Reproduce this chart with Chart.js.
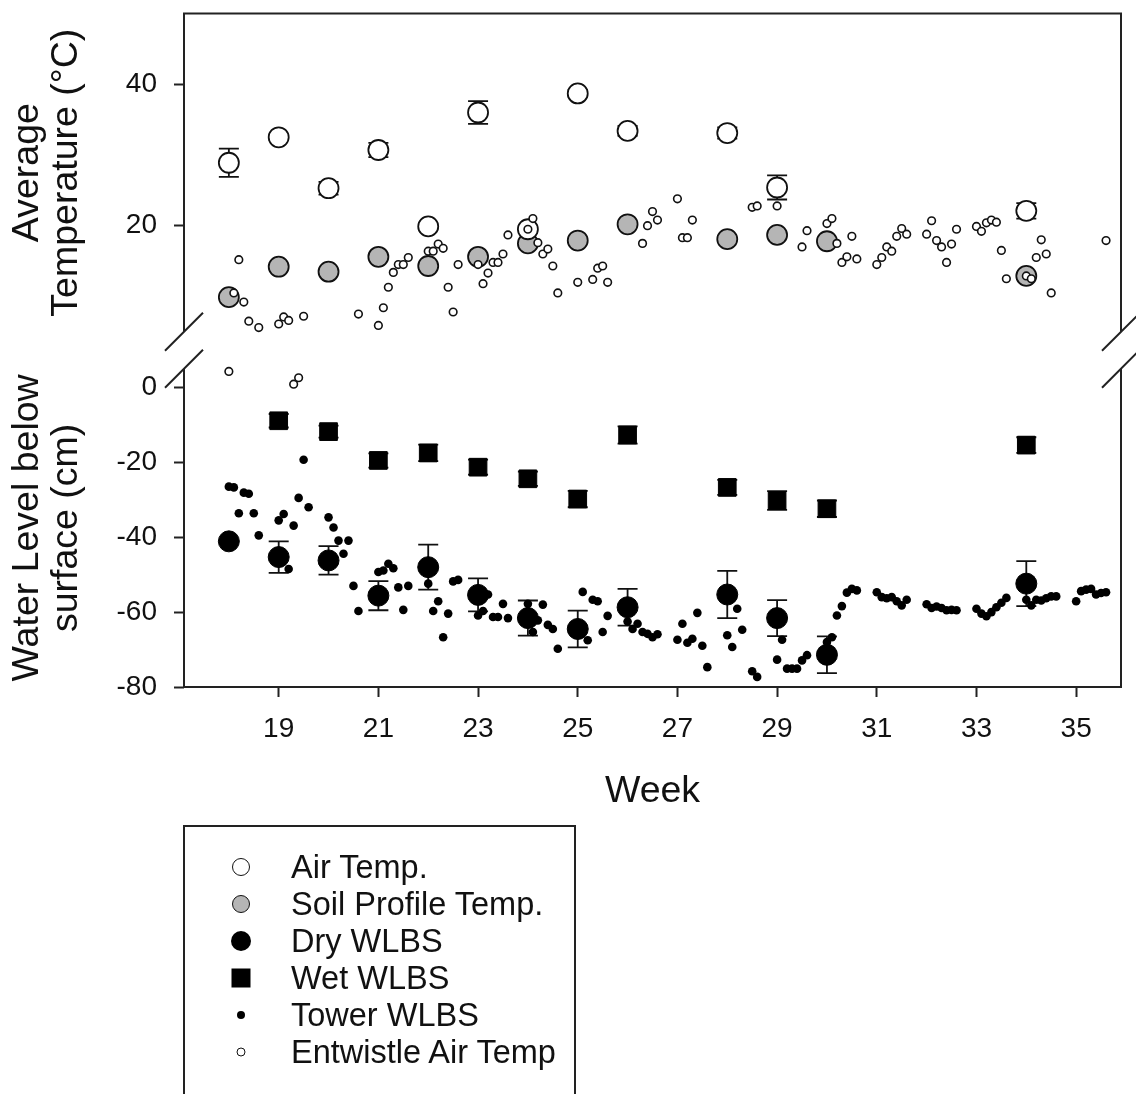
<!DOCTYPE html>
<html>
<head>
<meta charset="utf-8">
<script src="https://cdn.jsdelivr.net/npm/chart.js@4.4.1/dist/chart.umd.min.js"></script>
<style>
  html, body { margin: 0; padding: 0; background: #fff; }
  #wrap { position: relative; width: 1136px; height: 1094px; overflow: hidden; }
  #legend {
    position: absolute; left: 183px; top: 825px; width: 393px; height: 300px;
    border: 2px solid #222; box-sizing: border-box; padding-top: 21px;
    font-family: 'Liberation Sans', Arial, sans-serif; font-size: 32.5px; color: #111;
  }
  .row { position: relative; height: 37px; }
  .mark { position: absolute; left: 56px; top: 50%; transform: translate(-50%, -50%); box-sizing: border-box; }
  .txt { position: absolute; left: 106px; top: 50%; transform: translateY(-50%); line-height: 1; white-space: nowrap; }
</style>
</head>
<body>
<div id="wrap">
  <canvas id="chart" width="1136" height="830"></canvas>
  <div id="legend"></div>
</div>
<script>
// ---- data ----
const weekTicks = [19, 21, 23, 25, 27, 29, 31, 33, 35];
const tempTicks = [20, 40];
const levelTicks = [0, -20, -40, -60, -80];

const airWeeks = [18, 19, 20, 21, 22, 23, 24, 25, 26, 28, 29, 34];
const airTemp  = [28.9, 32.5, 25.3, 30.7, 19.9, 36.0, 19.5, 38.7, 33.4, 33.1, 25.4, 22.1];
const airErr   = [2.0, 0.4, 0.9, 1.0, 0.4, 1.6, 0.5, 0.5, 0.7, 0.8, 1.7, 1.1];

const soilWeeks = [18, 19, 20, 21, 22, 23, 24, 25, 26, 28, 29, 30, 34];
const soilTemp  = [9.9, 14.2, 13.5, 15.6, 14.3, 15.6, 17.5, 17.9, 20.2, 18.1, 18.7, 17.8, 12.9];

const dryWeeks = [18, 19, 20, 21, 22, 23, 24, 25, 26, 28, 29, 30, 34];
const dryLevel = [-41.1, -45.3, -46.2, -55.6, -48.0, -55.4, -61.6, -64.5, -58.7, -55.3, -61.6, -71.4, -52.4];
const dryErr   = [0, 4.2, 3.8, 3.9, 6.0, 4.4, 4.7, 4.9, 4.9, 6.3, 4.8, 4.9, 6.0];

const wetWeeks = [19, 20, 21, 22, 23, 24, 25, 26, 28, 29, 30, 34];
const wetLevel = [-8.9, -11.8, -19.5, -17.5, -21.3, -24.4, -29.8, -12.7, -26.7, -30.2, -32.4, -15.4];
const wetErr   = [1.8, 1.6, 1.9, 2.2, 2.0, 1.9, 2.2, 2.3, 2.0, 2.5, 2.2, 2.1];

const towerWeeks = [
  18.0, 18.1, 18.2, 18.3, 18.4, 18.5, 18.6,
  19.0, 19.1, 19.2, 19.3, 19.4, 19.5, 19.6,
  20.0, 20.1, 20.2, 20.3, 20.4, 20.5, 20.6,
  21.0, 21.1, 21.2, 21.3, 21.4, 21.5, 21.6,
  22.0, 22.1, 22.2, 22.3, 22.4, 22.5, 22.6,
  23.0, 23.1, 23.2, 23.3, 23.4, 23.5, 23.6,
  24.0, 24.1, 24.2, 24.3, 24.4, 24.5, 24.6,
  25.1, 25.2, 25.3, 25.4, 25.5, 25.6,
  26.0, 26.1, 26.2, 26.3, 26.4, 26.5, 26.6,
  27.0, 27.1, 27.2, 27.3, 27.4, 27.5, 27.6,
  28.0, 28.1, 28.2, 28.3, 28.5, 28.6,
  29.0, 29.1, 29.2, 29.3, 29.4, 29.5, 29.6,
  30.0, 30.1, 30.2, 30.3, 30.4, 30.5, 30.6,
  31.0, 31.1, 31.2, 31.3, 31.4, 31.5, 31.6,
  32.0, 32.1, 32.2, 32.3, 32.4, 32.5, 32.6,
  33.0, 33.1, 33.2, 33.3, 33.4, 33.5, 33.6,
  34.0, 34.1, 34.2, 34.3, 34.4, 34.5, 34.6,
  35.0, 35.1, 35.2, 35.3, 35.4, 35.5, 35.6
];
const towerLevel = [
  -26.5, -26.7, -33.6, -28.1, -28.4, -33.6, -39.5,
  -35.5, -33.8, -48.5, -36.9, -29.5, -19.3, -32.0,
  -34.7, -37.4, -40.9, -44.4, -40.9, -53.0, -59.7,
  -49.3, -48.9, -47.1, -48.3, -53.4, -59.4, -53.0,
  -52.4, -59.7, -57.1, -66.7, -60.4, -51.8, -51.4,
  -60.9, -59.7, -55.3, -61.3, -61.3, -57.8, -61.6,
  -57.8, -65.3, -62.2, -58.0, -63.4, -64.5, -69.8,
  -54.6, -67.5, -56.7, -57.1, -65.3, -61.0,
  -62.5, -64.5, -63.1, -65.3, -65.8, -66.7, -65.9,
  -67.4, -63.1, -68.2, -67.1, -60.2, -69.0, -74.7,
  -66.2, -69.3, -59.1, -64.7, -75.8, -77.3,
  -72.7, -67.4, -75.1, -75.1, -75.1, -72.9, -71.5,
  -68.0, -66.7, -60.9, -58.4, -54.8, -53.8, -54.2,
  -54.7, -56.0, -56.3, -56.0, -57.1, -58.2, -56.7,
  -57.9, -58.9, -58.5, -58.9, -59.5, -59.4, -59.5,
  -59.1, -60.4, -61.1, -60.0, -58.7, -57.5, -56.2,
  -56.7, -58.2, -56.7, -56.9, -56.3, -55.8, -55.8,
  -57.1, -54.4, -54.0, -53.8, -55.3, -54.9, -54.7
];

const entWeeks = [
  18.0, 18.1, 18.2, 18.3, 18.4, 18.6,
  19.0, 19.1, 19.2, 19.3, 19.4, 19.5,
  20.6,
  21.0, 21.1, 21.2, 21.3, 21.4, 21.5, 21.6,
  22.0, 22.1, 22.2, 22.3, 22.4, 22.5, 22.6,
  23.0, 23.1, 23.2, 23.3, 23.4, 23.5, 23.6,
  24.0, 24.1, 24.2, 24.3, 24.4, 24.5, 24.6,
  25.0, 25.3, 25.4, 25.5, 25.6,
  26.3, 26.4, 26.5, 26.6,
  27.0, 27.1, 27.2, 27.3,
  28.5, 28.6,
  29.0, 29.5, 29.6,
  30.0, 30.1, 30.2, 30.3, 30.4, 30.5, 30.6,
  31.0, 31.1, 31.2, 31.3, 31.4, 31.5, 31.6,
  32.0, 32.1, 32.2, 32.3, 32.4, 32.5, 32.6,
  33.0, 33.1, 33.2, 33.3, 33.4, 33.5, 33.6,
  34.0, 34.1, 34.2, 34.3, 34.4, 34.5,
  35.6
];
const entTemp = [
  -0.6, 10.5, 15.2, 9.2, 6.5, 5.6,
  6.1, 7.1, 6.6, -2.4, -1.5, 7.2,
  7.5,
  5.9, 8.4, 11.3, 13.4, 14.5, 14.5, 15.5,
  16.4, 16.4, 17.4, 16.8, 11.3, 7.8, 14.5,
  14.5, 11.8, 13.3, 14.8, 14.8, 16.0, 18.7,
  19.5, 21.0, 17.6, 16.0, 16.7, 14.3, 10.5,
  12.0, 12.4, 14.0, 14.3, 12.0,
  17.5, 20.0, 22.0, 20.8,
  23.8, 18.3, 18.3, 20.8,
  22.6, 22.8,
  22.8, 17.0, 19.3,
  20.3, 21.0, 17.5, 14.8, 15.6, 18.5, 15.3,
  14.5, 15.5, 17.0, 16.4, 18.5, 19.6, 18.8,
  18.8, 20.7, 17.9, 17.0, 14.8, 17.4, 19.5,
  19.9, 19.2, 20.4, 20.8, 20.5, 16.5, 12.5,
  12.9, 12.5, 15.5, 18.0, 16.0, 10.5,
  17.9
];

// ---- styling ----
const FONT = "'Liberation Sans', Arial, sans-serif";
const INK = '#111';
const AXIS = '#222';

Chart.defaults.font.family = FONT;
Chart.defaults.color = INK;

function pts(xs, ys) {
  return xs.map((x, i) => ({ x: x, y: ys[i] }));
}

// error bars drawn through the chart's own scales
const errorSets = [
  { axis: 'yT', x: airWeeks, y: airTemp, err: airErr },
  { axis: 'yW', x: dryWeeks, y: dryLevel, err: dryErr },
  { axis: 'yW', x: wetWeeks, y: wetLevel, err: wetErr }
];

const errorBarPlugin = {
  id: 'errorBars',
  beforeDatasetsDraw(chart) {
    const { ctx, scales } = chart;
    ctx.save();
    ctx.strokeStyle = INK;
    ctx.lineWidth = 1.8;
    errorSets.forEach(set => {
      const ys = scales[set.axis];
      set.x.forEach((w, i) => {
        if (!set.err[i]) return;
        const px = scales.x.getPixelForValue(w);
        const hi = ys.getPixelForValue(set.y[i] + set.err[i]);
        const lo = ys.getPixelForValue(set.y[i] - set.err[i]);
        ctx.beginPath();
        ctx.moveTo(px, hi); ctx.lineTo(px, lo);
        ctx.moveTo(px - 10, hi); ctx.lineTo(px + 10, hi);
        ctx.moveTo(px - 10, lo); ctx.lineTo(px + 10, lo);
        ctx.stroke();
      });
    });
    ctx.restore();
  }
};

// broken frame: two panels plus the break slashes
const framePlugin = {
  id: 'frame',
  afterDatasetsDraw(chart) {
    const { ctx, chartArea: a, scales: { yT, yW } } = chart;
    ctx.save();
    ctx.strokeStyle = AXIS;
    ctx.lineWidth = 2;
    ctx.beginPath();
    ctx.moveTo(a.left, yT.bottom); ctx.lineTo(a.left, a.top);
    ctx.lineTo(a.right, a.top); ctx.lineTo(a.right, yT.bottom);
    ctx.moveTo(a.left, yW.top); ctx.lineTo(a.left, a.bottom);
    ctx.lineTo(a.right, a.bottom); ctx.lineTo(a.right, yW.top);
    const s = 19;
    [a.left, a.right].forEach(x => {
      [yT.bottom, yW.top].forEach(y => {
        ctx.moveTo(x - s, y + s);
        ctx.lineTo(x + s, y - s);
      });
    });
    ctx.stroke();
    ctx.restore();
  }
};

const tickGrid = {
  display: true,
  drawOnChartArea: false,
  drawTicks: true,
  tickLength: 10,
  tickWidth: 2,
  tickColor: AXIS
};

function fitLeft(scale) {
  scale.width = 184;
  scale.paddingTop = 0;
  scale.paddingBottom = 0;
}

const datasets = [
  { label: 'Air Temp.', data: pts(airWeeks, airTemp), yAxisID: 'yT',
    pointStyle: 'circle', pointRadius: 10, backgroundColor: '#fff', borderColor: INK, borderWidth: 1.8, order: 3 },
  { label: 'Soil Profile Temp.', data: pts(soilWeeks, soilTemp), yAxisID: 'yT',
    pointStyle: 'circle', pointRadius: 10, backgroundColor: '#b5b5b5', borderColor: INK, borderWidth: 1.8, order: 3 },
  { label: 'Dry WLBS', data: pts(dryWeeks, dryLevel), yAxisID: 'yW',
    pointStyle: 'circle', pointRadius: 10.5, backgroundColor: '#000', borderColor: '#000', borderWidth: 1, order: 2 },
  { label: 'Wet WLBS', data: pts(wetWeeks, wetLevel), yAxisID: 'yW',
    pointStyle: 'rect', pointRadius: 12.5, backgroundColor: '#000', borderColor: '#000', borderWidth: 1, order: 2 },
  { label: 'Tower WLBS', data: pts(towerWeeks, towerLevel), yAxisID: 'yW',
    pointStyle: 'circle', pointRadius: 4.3, backgroundColor: '#000', borderColor: '#000', borderWidth: 0, order: 1 },
  { label: 'Entwistle Air Temp', data: pts(entWeeks, entTemp), yAxisID: 'yT', clip: false,
    pointStyle: 'circle', pointRadius: 3.8, backgroundColor: '#fff', borderColor: INK, borderWidth: 1.6, order: 0 }
];

const chart = new Chart(document.getElementById('chart').getContext('2d'), {
  type: 'scatter',
  data: { datasets: datasets },
  options: {
    responsive: false,
    maintainAspectRatio: false,
    animation: false,
    events: [],
    layout: { padding: { top: 12, right: 15, bottom: 0, left: 0 } },
    plugins: { legend: { display: false }, tooltip: { enabled: false } },
    scales: {
      x: {
        type: 'linear', position: 'bottom', min: 17.1, max: 35.9,
        afterBuildTicks: s => { s.ticks = weekTicks.map(v => ({ value: v })); },
        ticks: { font: { size: 28 }, padding: 15, color: INK, maxRotation: 0 },
        grid: tickGrid,
        border: { display: false },
        title: { display: true, text: 'Week', color: INK, font: { size: 37.5 }, padding: { top: 0, bottom: 16 } },
        afterFit: s => { s.height = 143; s.paddingLeft = 0; s.paddingRight = 0; }
      },
      yT: {
        type: 'linear', position: 'left', stack: 'panels', stackWeight: 319, weight: 3,
        min: 5, max: 50,
        afterBuildTicks: s => { s.ticks = tempTicks.map(v => ({ value: v })); },
        ticks: { font: { size: 28 }, padding: 17, color: INK },
        grid: tickGrid,
        border: { display: false },
        title: { display: true, text: ['Average', 'Temperature (°C)'], color: INK,
                 font: { size: 37.5, lineHeight: 1.04 }, padding: { top: 8, bottom: 0 } },
        afterFit: fitLeft
      },
      gap: {
        type: 'linear', position: 'left', stack: 'panels', stackWeight: 37, weight: 2,
        display: false, min: 0, max: 1
      },
      yW: {
        type: 'linear', position: 'left', stack: 'panels', stackWeight: 319, weight: 1,
        min: -80, max: 5,
        afterBuildTicks: s => { s.ticks = levelTicks.map(v => ({ value: v })); },
        ticks: { font: { size: 28 }, padding: 17, color: INK },
        grid: tickGrid,
        border: { display: false },
        title: { display: true, text: ['Water Level below', 'surface (cm)'], color: INK,
                 font: { size: 37.5, lineHeight: 1.04 }, padding: { top: 8, bottom: 0 } },
        afterFit: fitLeft
      }
    }
  },
  plugins: [errorBarPlugin, framePlugin]
});

// ---- legend (built from the chart's datasets) ----
const legendMarks = {
  'Air Temp.': { size: 18, radius: '50%', fill: '#fff', border: 1.6 },
  'Soil Profile Temp.': { size: 18, radius: '50%', fill: '#b5b5b5', border: 1.6 },
  'Dry WLBS': { size: 20, radius: '50%', fill: '#000', border: 0 },
  'Wet WLBS': { size: 19, radius: '0', fill: '#000', border: 0 },
  'Tower WLBS': { size: 8, radius: '50%', fill: '#000', border: 0 },
  'Entwistle Air Temp': { size: 9, radius: '50%', fill: '#fff', border: 1.5 }
};
const legendEl = document.getElementById('legend');
chart.data.datasets.forEach(ds => {
  const m = legendMarks[ds.label];
  const row = document.createElement('div');
  row.className = 'row';
  const mark = document.createElement('div');
  mark.className = 'mark';
  mark.style.width = m.size + 'px';
  mark.style.height = m.size + 'px';
  mark.style.borderRadius = m.radius;
  mark.style.background = m.fill;
  mark.style.border = m.border ? (m.border + 'px solid ' + INK) : 'none';
  const txt = document.createElement('div');
  txt.className = 'txt';
  txt.textContent = ds.label;
  row.appendChild(mark);
  row.appendChild(txt);
  legendEl.appendChild(row);
});
</script>
</body>
</html>
